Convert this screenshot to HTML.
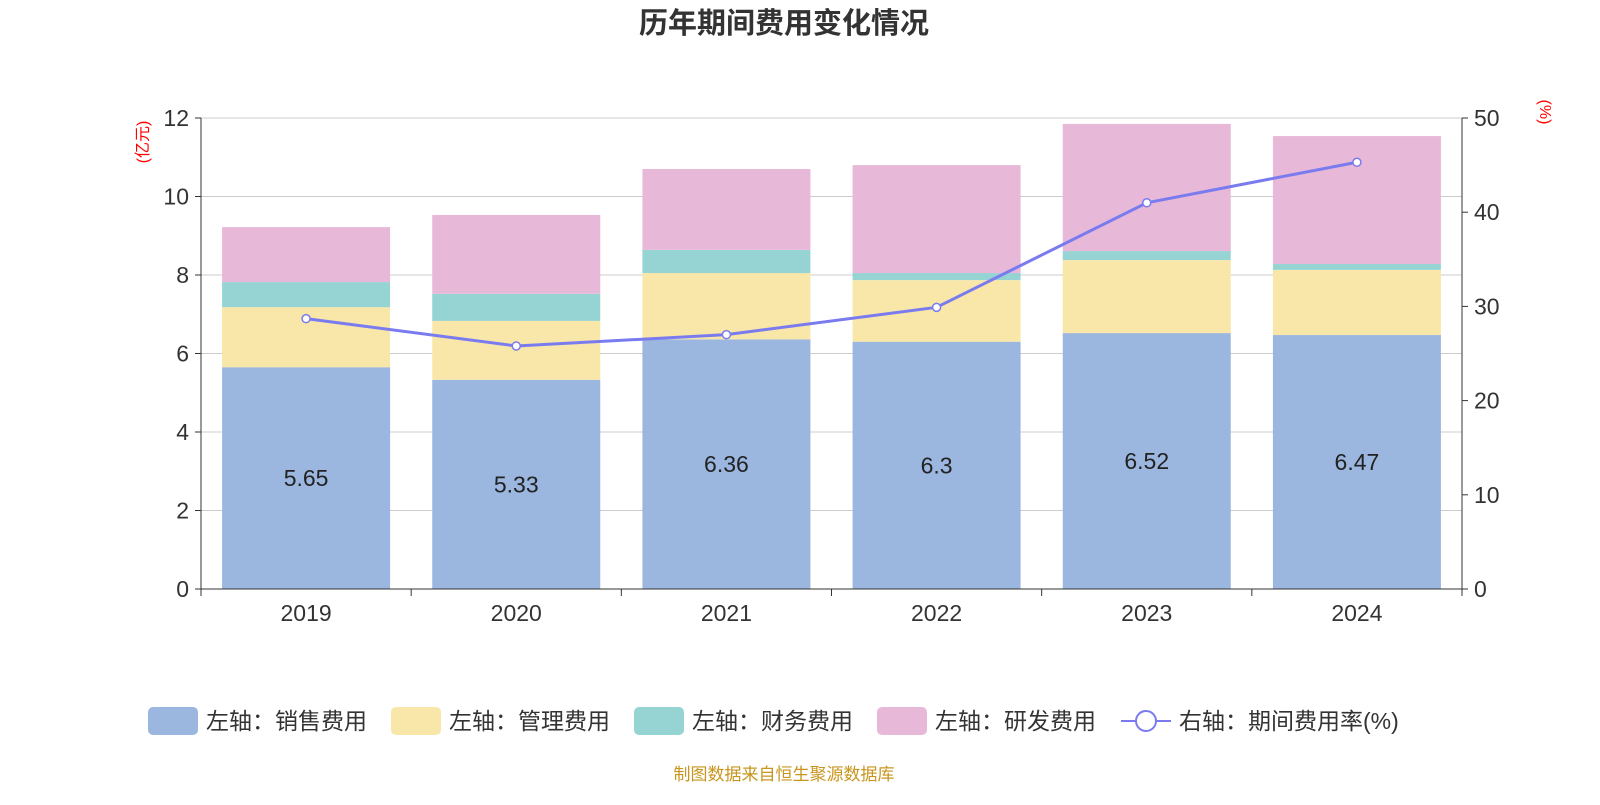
<!DOCTYPE html>
<html><head><meta charset="utf-8"><style>
body{margin:0;background:#fff;font-family:"Liberation Sans","Noto Sans CJK SC",sans-serif}
</style></head><body>
<svg id="c" width="1600" height="800" xmlns="http://www.w3.org/2000/svg"></svg>
<script>
const categories=["2019","2020","2021","2022","2023","2024"];
const sales=[5.65,5.33,6.36,6.3,6.52,6.47];
const mgmt=[1.53,1.50,1.69,1.57,1.86,1.66];
const fin=[0.64,0.69,0.59,0.18,0.23,0.15];
const rd=[1.40,2.01,2.06,2.75,3.24,3.26];
const rate=[28.7,25.8,27.0,29.9,41.0,45.3];
const leftTicks=[0,2,4,6,8,10,12];
const rightTicks=[0,10,20,30,40,50];
const NS="http://www.w3.org/2000/svg",svg=document.getElementById('c');
const X0=201,X1=1462,Y0=589,Y1=118;
const bw=(X1-X0)/categories.length;
const yl=v=>Y0-(v/12)*(Y0-Y1), yr=v=>Y0-(v/50)*(Y0-Y1), xc=i=>X0+bw*(i+0.5);
function el(t,a,txt){const e=document.createElementNS(NS,t);for(const k in a)e.setAttribute(k,a[k]);if(txt!=null)e.textContent=txt;svg.appendChild(e);return e;}
let t=el('text',{x:784,y:33,'text-anchor':'middle','font-size':29,'font-weight':'bold',fill:'#333'},'历年期间费用变化情况');

leftTicks.forEach(v=>{const y=yl(v);
 if(v>0){const g=el('line',{x1:X0,x2:X1,y1:y,y2:y,stroke:'#ccc'});}
 el('line',{x1:X0-6,x2:X0,y1:y,y2:y,stroke:'#333'});
 const l=el('text',{x:X0-12,y:y+8,'text-anchor':'end','font-size':23,fill:'#333'},v);
 });
rightTicks.forEach(v=>{const y=yr(v);el('line',{x1:X1,x2:X1+6,y1:y,y2:y,stroke:'#333'});
 const l=el('text',{x:X1+12,y:y+8,'font-size':23,fill:'#333'},v);
 });
const series=[[sales,'#9bb7e0','sales'],[mgmt,'#f8e7a8','mgmt'],[fin,'#96d4d4','finance'],[rd,'#e8b8d8','rnd']];
categories.forEach((c,i)=>{let acc=0;
 series.forEach(([arr,col,nm])=>{const y1=yl(acc),y2=yl(acc+arr[i]);acc+=arr[i];
  const r=el('rect',{x:xc(i)-84,y:y2,width:168,height:y1-y2,fill:col});
  });
 const l=el('text',{x:xc(i),y:(yl(0)+yl(sales[i]))/2+8,'text-anchor':'middle','font-size':23,fill:'#222'},sales[i]);
 
 el('line',{x1:X0+bw*i,x2:X0+bw*i,y1:Y0,y2:Y0+7,stroke:'#333'});
 const xl=el('text',{x:xc(i),y:621,'text-anchor':'middle','font-size':23,fill:'#333'},c);
 });
el('line',{x1:X1,x2:X1,y1:Y0,y2:Y0+7,stroke:'#333'});
el('line',{x1:X0,x2:X1,y1:Y0,y2:Y0,stroke:'#333'});
el('line',{x1:X0,x2:X0,y1:Y1,y2:Y0,stroke:'#333'});
el('line',{x1:X1,x2:X1,y1:Y1,y2:Y0,stroke:'#333'});
const p=el('polyline',{points:rate.map((v,i)=>xc(i)+','+yr(v)).join(' '),fill:'none',stroke:'#7b7bf0','stroke-width':3});

rate.forEach((v,i)=>{const d=el('circle',{cx:xc(i),cy:yr(v),r:4,fill:'#fff',stroke:'#7b7bf0','stroke-width':1.5});
 });
let a=el('text',{x:148,y:142,'font-size':16,fill:'red','text-anchor':'middle',transform:'rotate(-90 148 142)'},'(亿元)');

a=el('text',{x:1540,y:112,'font-size':16,fill:'red','text-anchor':'middle',transform:'rotate(90 1540 112)'},'(%)');

const leg=[['#9bb7e0','左轴：销售费用',148],['#f8e7a8','左轴：管理费用',391],['#96d4d4','左轴：财务费用',634],['#e8b8d8','左轴：研发费用',877]];
leg.forEach(([col,tx,x])=>{const r=el('rect',{x:x,y:707,width:50,height:28,rx:5,fill:col});
 
 const l=el('text',{x:x+58,y:729,'font-size':23,fill:'#333'},tx);
 });
el('line',{x1:1121,x2:1171,y1:721,y2:721,stroke:'#7b7bf0','stroke-width':2});
el('circle',{cx:1146,cy:721,r:10,fill:'#fff',stroke:'#7b7bf0','stroke-width':2});
let l=el('text',{x:1179,y:729,'font-size':23,fill:'#333'},'右轴：期间费用率(%)');

l=el('text',{x:784,y:780,'text-anchor':'middle','font-size':17,fill:'#c8961e'},'制图数据来自恒生聚源数据库');

</script></body></html>
